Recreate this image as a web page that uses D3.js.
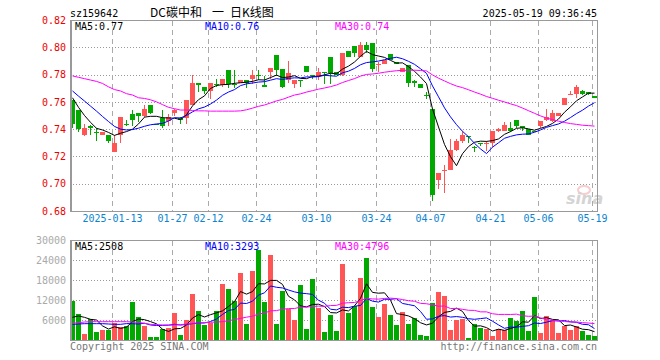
<!DOCTYPE html>
<html>
<head>
<meta charset="utf-8">
<script src="https://cdn.jsdelivr.net/npm/d3@7"></script>
<style>
body { margin: 0; background: #fff; }
text { font-family: "DejaVu Sans Mono", monospace; font-size: 10px; }
</style>
</head>
<body>
<script>
// trading days shown on the chart
var dates = [
  '01-02','01-03','01-06','01-07','01-08','01-09','01-10','01-13','01-14','01-15','01-16','01-17','01-20','01-21','01-22','01-23','01-24','01-27',
  '02-05','02-06','02-07','02-10','02-11','02-12','02-13','02-14','02-17','02-18','02-19','02-20','02-21','02-24','02-25','02-26','02-27','02-28',
  '03-03','03-04','03-05','03-06','03-07','03-10','03-11','03-12','03-13','03-14','03-17','03-18','03-19','03-20','03-21','03-24','03-25','03-26','03-27','03-28','03-31',
  '04-01','04-02','04-03','04-07','04-08','04-09','04-10','04-11','04-14','04-15','04-16','04-17','04-18','04-21','04-22','04-23','04-24','04-25','04-28','04-29','04-30',
  '05-06','05-07','05-08','05-09','05-12','05-13','05-14','05-15','05-16','05-19'
];

var opens = [0.761,0.754,0.736,0.742,0.738,0.736,0.736,0.723,0.736,0.744,0.751,0.752,0.750,0.758,0.744,0.748,0.746,0.752,
  0.748,0.748,0.758,0.774,0.771,0.768,0.773,0.772,0.783,0.773,0.774,0.776,0.777,0.780,0.772,0.782,0.794,0.784,
  0.776,0.773,0.776,0.786,0.780,0.779,0.782,0.793,0.782,0.780,0.797,0.801,0.793,0.802,0.803,0.787,0.788,0.795,0.789,0.782,0.787,
  0.775,0.773,0.765,0.755,0.703,0.709,0.710,0.725,0.731,0.735,0.727,0.730,0.729,0.730,0.739,0.739,0.741,0.747,0.742,0.740,0.739,
  0.742,0.747,0.746,0.750,0.758,0.765,0.766,0.768,0.767,0.764];
var highs = [0.761,0.754,0.744,0.743,0.741,0.738,0.736,0.736,0.749,0.747,0.754,0.752,0.758,0.758,0.744,0.754,0.751,0.755,
  0.749,0.761,0.780,0.774,0.771,0.774,0.777,0.777,0.783,0.783,0.776,0.776,0.783,0.783,0.779,0.785,0.794,0.784,
  0.790,0.776,0.776,0.786,0.780,0.785,0.782,0.793,0.782,0.796,0.797,0.801,0.804,0.804,0.803,0.789,0.791,0.795,0.789,0.785,0.787,
  0.776,0.773,0.767,0.755,0.708,0.714,0.733,0.733,0.739,0.735,0.728,0.730,0.731,0.739,0.741,0.745,0.745,0.747,0.742,0.740,0.739,
  0.746,0.755,0.754,0.752,0.763,0.768,0.772,0.769,0.767,0.764];
var lows = [0.741,0.738,0.735,0.736,0.731,0.736,0.730,0.723,0.730,0.742,0.742,0.745,0.749,0.751,0.743,0.741,0.742,0.750,
  0.744,0.744,0.758,0.767,0.766,0.762,0.771,0.771,0.770,0.770,0.774,0.770,0.773,0.776,0.771,0.777,0.779,0.770,
  0.774,0.770,0.771,0.782,0.777,0.776,0.773,0.773,0.780,0.779,0.793,0.793,0.793,0.796,0.782,0.782,0.788,0.791,0.788,0.782,0.771,
  0.771,0.770,0.762,0.687,0.696,0.693,0.710,0.724,0.730,0.730,0.723,0.728,0.724,0.727,0.738,0.739,0.738,0.741,0.739,0.736,0.738,
  0.741,0.746,0.745,0.750,0.758,0.765,0.763,0.765,0.765,0.763];
var closes = [0.744,0.740,0.741,0.741,0.737,0.738,0.731,0.730,0.749,0.743,0.747,0.750,0.755,0.752,0.743,0.742,0.749,0.754,
  0.747,0.761,0.774,0.772,0.768,0.774,0.772,0.777,0.773,0.772,0.776,0.774,0.780,0.779,0.771,0.785,0.783,0.771,
  0.781,0.776,0.775,0.782,0.779,0.782,0.781,0.781,0.780,0.796,0.793,0.796,0.802,0.798,0.784,0.788,0.791,0.791,0.788,0.785,0.774,
  0.774,0.770,0.764,0.692,0.708,0.710,0.725,0.731,0.736,0.734,0.726,0.729,0.730,0.739,0.740,0.743,0.739,0.742,0.741,0.736,0.738,
  0.746,0.749,0.752,0.752,0.763,0.766,0.771,0.766,0.766,0.763];

var volumes = [11800,7800,1800,6200,2400,3000,3000,5200,3800,4200,11400,6900,4200,900,900,3300,3500,8100,
  1500,6000,13800,8700,4500,5000,8700,16800,15300,11700,20200,4800,20700,27000,11400,25500,4800,14700,
  9200,6000,16500,3300,18300,9600,2400,7500,2800,22800,8100,10200,18600,24600,9900,6900,10800,7500,4500,8500,4800,
  6600,1500,1200,11100,14400,13200,3000,6000,6300,600,4800,3600,3300,1200,3300,3000,6600,5700,8700,2700,12900,
  2100,7200,6000,2100,4200,3000,4200,2700,1400,1200];

// moving average values at the left edge (window reaches before the first shown day)
var ma5Head = [0.763, 0.756, 0.750, 0.745];
var ma10Head = [0.768, 0.7642, 0.7606, 0.7569, 0.7532, 0.7493, 0.7456, 0.742, 0.740];
var ma30Head = [0.779,0.778,0.777,0.776,0.775,0.7735,0.771,0.769,0.768,0.766,0.765,0.763,0.7625,0.7615,0.760,
  0.758,0.756,0.755,0.754,0.754,0.7537,0.7534,0.7534,0.7532,0.7532,0.7532,0.7532,0.7532,0.7534];
var vol5Head = [6800, 7200, 6800, 6200];
var vol10Head = [4700, 4800, 4900, 4900, 4900, 4900, 4800, 4700, 4700];
var vol30Head = [5000,5200,5400,5500,5500,5500,5500,5500,5500,5500,5400,5300,5000,4700,4600,
  4500,4500,4500,4600,4800,5000,5100,5200,5300,5400,5500,5800,6100,6500];

var priceTicks = [0.68, 0.70, 0.72, 0.74, 0.76, 0.78, 0.80, 0.82];
var volTicks = [6000, 12000, 18000, 24000, 30000];
var dateTicks = ['01-13','01-27','02-12','02-24','03-10','03-24','04-07','04-21','05-06','05-19'];
var dateTickLabels = ['2025-01-13','01-27','02-12','02-24','03-10','03-24','04-07','04-21','05-06','05-19'];
var priceLegend = ['MA5:0.77', 'MA10:0.76', 'MA30:0.74'];
var volLegend = ['MA5:2508', 'MA10:3293', 'MA30:4796'];

var red = '#ff5555', green = '#00a800';
var maColors = ['#000000', '#0000ff', '#ff00ff'];

function movingAvg(values, n, head) {
  return values.map(function (v, i) {
    if (i < n - 1) return head[i];
    return d3.mean(values.slice(i - n + 1, i + 1));
  });
}

var svg = d3.select('body').append('svg')
  .attr('width', 660).attr('height', 360);

var x = d3.scaleBand().domain(dates).range([70, 598]);
var yPrice = d3.scaleLinear().domain([0.68, 0.82]).range([211, 20]);
var yVol = d3.scaleLinear().domain([0, 30000]).range([340, 240]);

function isUp(i) { return closes[i] >= opens[i]; }

// header
svg.append('text').attr('x', 70).attr('y', 17).text('sz159642');
svg.append('text').attr('x', 150).attr('y', 17)
  .style('font-family', '"Noto Sans CJK SC"').style('font-size', '12px')
  .text('DC碳中和');
svg.append('text').attr('x', 212).attr('y', 17)
  .style('font-family', '"Noto Sans CJK SC"').style('font-size', '12px').text('一');
svg.append('text').attr('x', 230).attr('y', 17)
  .style('font-family', '"Noto Sans CJK SC"').style('font-size', '12px').text('日K线图');
svg.append('text').attr('x', 597).attr('y', 17).attr('text-anchor', 'end').text('2025-05-19 09:36:45');

// grids
function grid(g, yScale, ticks, top, bottom) {
  g.selectAll('.hg').data(ticks).enter().append('line')
    .attr('x1', 70).attr('x2', 597)
    .attr('y1', function (d) { return Math.round(yScale(d)) + 0.5; })
    .attr('y2', function (d) { return Math.round(yScale(d)) + 0.5; })
    .attr('stroke', '#999').attr('stroke-dasharray', '1,2');
  g.selectAll('.vg').data(dateTicks).enter().append('line')
    .attr('x1', function (d) { return x(d) + 0.5; })
    .attr('x2', function (d) { return x(d) + 0.5; })
    .attr('y1', top).attr('y2', bottom)
    .attr('stroke', '#aaa').attr('stroke-dasharray', '5,4');
}
grid(svg.append('g'), yPrice, priceTicks.slice(1, -1), 21, 211);
grid(svg.append('g'), yVol, volTicks.slice(0, -1), 241, 340);

// watermark
var wm = svg.append('g').attr('opacity', 0.5);
wm.append('ellipse').attr('cx', 584).attr('cy', 190).attr('rx', 6).attr('ry', 4)
  .attr('fill', 'none').attr('stroke', '#f29c9c').attr('stroke-width', 2);
wm.append('text').attr('x', 566).attr('y', 204)
  .style('font-family', '"DejaVu Sans"').style('font-size', '16px')
  .style('font-weight', 'bold').style('font-style', 'italic')
  .attr('fill', '#aaa').text('sina');

// candles
var candles = svg.append('g').attr('shape-rendering', 'crispEdges');
candles.selectAll('.wick').data(dates).enter().append('line')
  .attr('x1', function (d) { return x(d) + 2.5; })
  .attr('x2', function (d) { return x(d) + 2.5; })
  .attr('y1', function (d, i) { return yPrice(highs[i]); })
  .attr('y2', function (d, i) { return yPrice(lows[i]); })
  .attr('stroke', function (d, i) { return isUp(i) ? red : green; });
candles.selectAll('.body').data(dates).enter().append('rect')
  .attr('x', function (d) { return x(d); })
  .attr('width', 5)
  .attr('y', function (d, i) { return yPrice(Math.max(opens[i], closes[i])); })
  .attr('height', function (d, i) {
    return Math.max(1, Math.abs(yPrice(opens[i]) - yPrice(closes[i])));
  })
  .attr('fill', function (d, i) { return isUp(i) ? red : green; });

// volume bars
svg.append('g').attr('shape-rendering', 'crispEdges')
  .selectAll('rect').data(volumes).enter().append('rect')
  .attr('x', function (d, i) { return x(dates[i]); })
  .attr('width', 5)
  .attr('y', function (d) { return yVol(d); })
  .attr('height', function (d) { return yVol(0) - yVol(d); })
  .attr('fill', function (d, i) { return isUp(i) ? red : green; });

// moving average lines
function maLine(values, yScale) {
  return d3.line()
    .x(function (d, i) { return x(dates[i]) + 2.5; })
    .y(function (d) { return yScale(d); })(values);
}
var priceMAs = [movingAvg(closes, 5, ma5Head), movingAvg(closes, 10, ma10Head), movingAvg(closes, 30, ma30Head)];
var volMAs = [movingAvg(volumes, 5, vol5Head), movingAvg(volumes, 10, vol10Head), movingAvg(volumes, 30, vol30Head)];
var clipP = svg.append('clipPath').attr('id', 'cp');
clipP.append('rect').attr('x', 70).attr('y', 20).attr('width', 528).attr('height', 192);
svg.append('g').attr('clip-path', 'url(#cp)').selectAll('path').data(priceMAs).enter().append('path')
  .attr('d', function (d) { return maLine(d, yPrice); })
  .attr('fill', 'none').attr('stroke-width', 1)
  .attr('stroke', function (d, i) { return maColors[i]; });
svg.append('g').selectAll('path').data(volMAs).enter().append('path')
  .attr('d', function (d) { return maLine(d, yVol); })
  .attr('fill', 'none').attr('stroke-width', 1)
  .attr('stroke', function (d, i) { return maColors[i]; });

// frames (left edge is drawn heavier)
[[20, 211], [240, 340]].forEach(function (p) {
  svg.append('rect').attr('x', 70.5).attr('y', p[0] + 0.5).attr('width', 527).attr('height', p[1] - p[0])
    .attr('fill', 'none').attr('stroke', '#999');
  svg.append('line').attr('x1', 71).attr('x2', 71).attr('y1', p[0]).attr('y2', p[1] + 1)
    .attr('stroke', '#999').attr('stroke-width', 2);
});

// axes
var pAxis = svg.append('g').attr('transform', 'translate(66,0)')
  .call(d3.axisLeft(yPrice).tickValues(priceTicks).tickSize(0).tickPadding(0)
    .tickFormat(d3.format('.2f')));
pAxis.select('.domain').remove();
pAxis.selectAll('text').attr('fill', '#ee0000').style('font-size', '10px').style('font-family', '"DejaVu Sans Mono"');

var vAxis = svg.append('g').attr('transform', 'translate(66,0)')
  .call(d3.axisLeft(yVol).tickValues(volTicks).tickSize(0).tickPadding(0));
vAxis.select('.domain').remove();
vAxis.selectAll('text').attr('fill', '#aaa').style('font-size', '10px').style('font-family', '"DejaVu Sans Mono"')
  .text(function (d) { return d; });

var xAxis = svg.append('g').attr('transform', 'translate(-2.5,215)')
  .call(d3.axisBottom(x).tickValues(dateTicks).tickSize(0).tickPadding(0)
    .tickFormat(function (d, i) { return dateTickLabels[i]; }));
xAxis.select('.domain').remove();
xAxis.selectAll('text').attr('fill', '#0a84d0').style('font-size', '10px').style('font-family', '"DejaVu Sans Mono"');

// legends
var legendX = [75, 205, 335];
svg.selectAll('.pl').data(priceLegend).enter().append('text')
  .attr('x', function (d, i) { return legendX[i]; }).attr('y', 30)
  .attr('fill', function (d, i) { return maColors[i]; }).text(function (d) { return d; });
svg.selectAll('.vl').data(volLegend).enter().append('text')
  .attr('x', function (d, i) { return legendX[i]; }).attr('y', 250)
  .attr('fill', function (d, i) { return maColors[i]; }).text(function (d) { return d; });

// footer
svg.append('text').attr('x', 70).attr('y', 350).attr('fill', '#777').text('Copyright 2025 SINA.COM');
svg.append('text').attr('x', 597).attr('y', 350).attr('text-anchor', 'end').attr('fill', '#777')
  .text('http://finance.sina.com.cn');
</script>
</body>
</html>
